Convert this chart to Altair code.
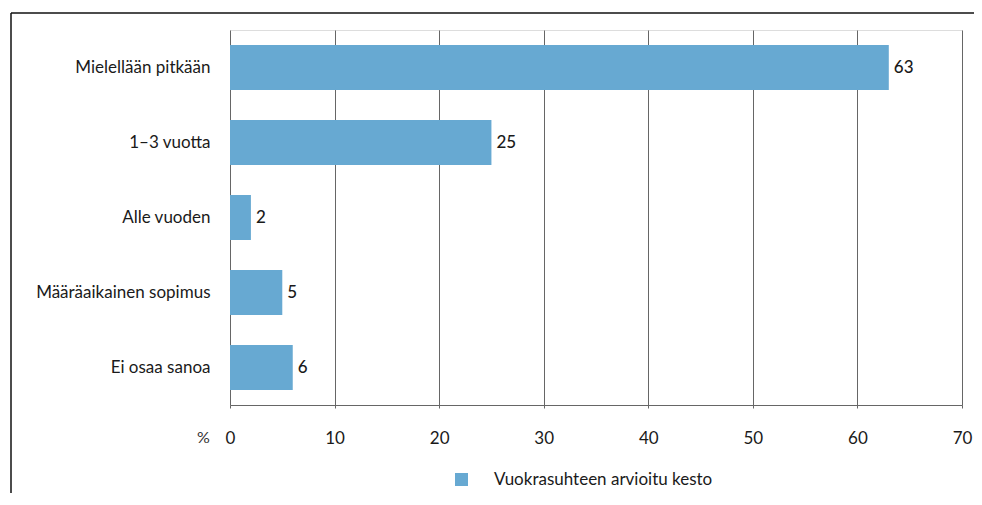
import altair as alt
import pandas as pd

categories = ["Mielellään pitkään", "1–3 vuotta", "Alle vuoden", "Määräaikainen sopimus", "Ei osaa sanoa"]
values = [63, 25, 2, 5, 6]
series_name = "Vuokrasuhteen arvioitu kesto"
x_ticks = [0, 10, 20, 30, 40, 50, 60, 70]

df = pd.DataFrame({"cat": categories, "val": values, "series": [series_name] * len(values)})

FONT = "Lato"
BAR = "#67a9d2"
GRID = "#666666"
TXT = "#1a1a1a"

W, H = 732, 375

base = alt.Chart(df)

bars = base.mark_bar(color=BAR).encode(
    y=alt.Y("cat:N", sort=categories,
            scale=alt.Scale(paddingInner=0.4, paddingOuter=0.2),
            axis=alt.Axis(title=None, domain=False, ticks=False, labelPadding=20,
                          labelFont=FONT, labelFontSize=17, labelColor=TXT,
                          labelLimit=300)),
    x=alt.X("val:Q", scale=alt.Scale(domain=[0, 70], nice=False),
            axis=alt.Axis(values=x_ticks, title="%", titleX=-27, titleY=32,
                          titleBaseline="middle",
                          titleFont=FONT, titleFontSize=16, titleFontWeight="normal",
                          titleColor="#333333", titleAlign="center",
                          grid=True, gridColor=GRID, gridOpacity=1, gridWidth=1,
                          domainColor=GRID, tickColor=GRID, tickSize=3,
                          labelFont=FONT, labelFontSize=17, labelColor=TXT,
                          labelPadding=22, labelFlush=False)),
    fill=alt.Fill("series:N", scale=alt.Scale(range=[BAR]),
                  legend=alt.Legend(title=None, orient="none", legendX=223, legendY=441,
                                    symbolType="square", symbolSize=169, symbolStrokeWidth=0,
                                    labelFont=FONT, labelFontSize=17, labelColor=TXT,
                                    labelOffset=24, labelLimit=400, padding=0)),
)

labels = base.mark_text(align="left", baseline="middle", dx=5, font=FONT,
                        fontSize=17, fontWeight=500, color=TXT).encode(
    y=alt.Y("cat:N", sort=categories),
    x=alt.X("val:Q"),
    text=alt.Text("val:Q"),
)

frame_top = alt.Chart(pd.DataFrame({"k": [0]})).mark_rule(color="#111111", strokeWidth=1.5).encode(
    x=alt.value(-219), x2=alt.value(760), y=alt.value(-17)
)
frame_left = alt.Chart(pd.DataFrame({"k": [0]})).mark_rule(color="#111111", strokeWidth=1.5).encode(
    x=alt.value(-219), y=alt.value(-17), y2=alt.value(480)
)

chart = alt.layer(frame_top, frame_left, bars, labels).properties(
    width=W, height=H,
    autosize=alt.AutoSizeParams(type="none"),
    padding={"left": 222, "top": 22, "right": 12, "bottom": 88},
).configure_view(stroke=None).configure(background="white")

chart.save("out.html", embed_options={"renderer": "svg", "actions": False})
